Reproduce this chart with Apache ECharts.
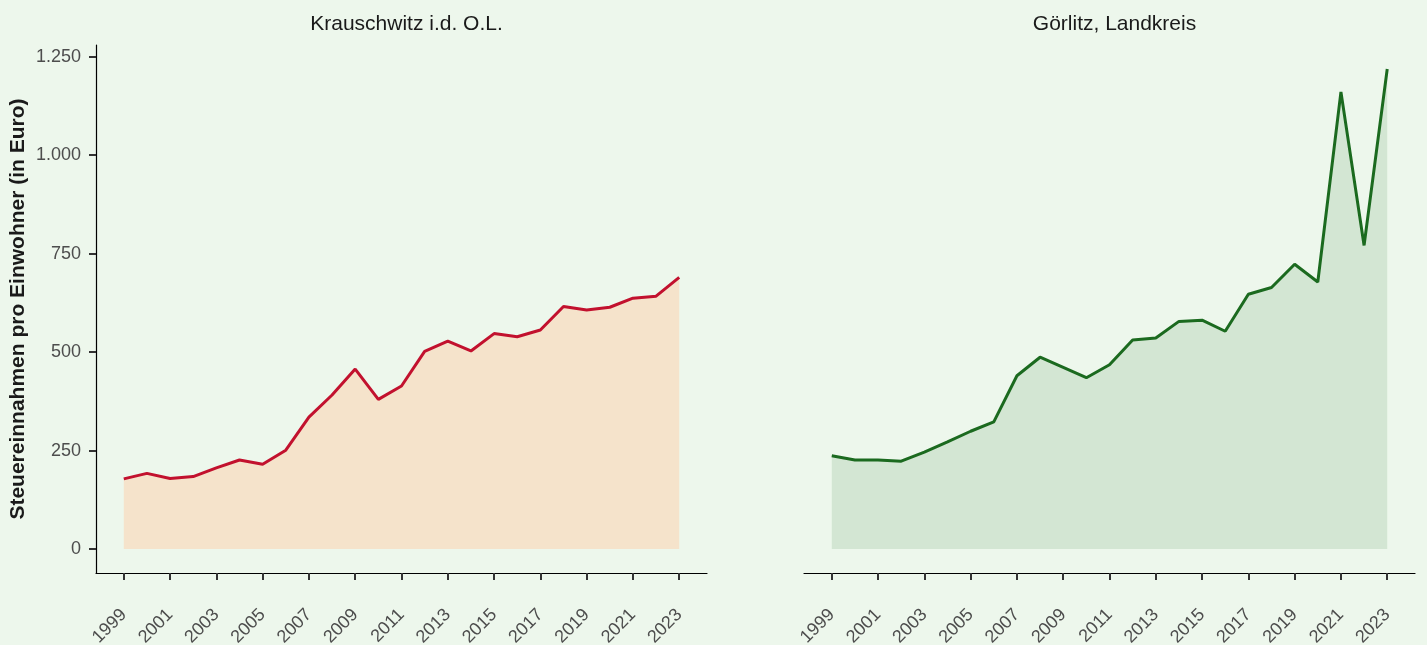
<!DOCTYPE html>
<html>
<head>
<meta charset="utf-8">
<script src="https://cdn.jsdelivr.net/npm/echarts@6/dist/echarts.min.js"></script>
<style>
html,body{margin:0;padding:0;background:#EDF7EC;}
#chart{width:1427px;height:645px;}
</style>
</head>
<body>
<div id="chart"></div>
<script>
const years = [1999,2000,2001,2002,2003,2004,2005,2006,2007,2008,2009,2010,2011,2012,2013,2014,2015,2016,2017,2018,2019,2020,2021,2022,2023];
const krauschwitz = [178,192,179,184,206,226,215,251,335,391,457,380,414,502,528,503,547,539,556,616,607,614,637,642,690];
const goerlitz = [237,226,226,223,246,272,299,323,440,487,461,435,468,531,536,578,581,553,647,664,723,678,1161,771,1219];
const panelTitles = ['Krauschwitz i.d. O.L.', 'Görlitz, Landkreis'];
const xTicks = [1999,2001,2003,2005,2007,2009,2011,2013,2015,2017,2019,2021,2023];
const yTicks = [0,250,500,750,1000,1250];
const yTickLabels = ['0','250','500','750','1.000','1.250'];
const yTitle = 'Steuereinnahmen pro Einwohner (in Euro)';

const chart = echarts.init(document.getElementById('chart'), null, {renderer:'canvas'});
const font = 'Liberation Sans, Arial, sans-serif';
const gridW = 611, gridH = 528, gridTop = 45;
const grids = [
  {left:96, top:gridTop, width:gridW, height:gridH, containLabel:false, outerBoundsMode:'none'},
  {left:804, top:gridTop, width:gridW, height:gridH, containLabel:false, outerBoundsMode:'none'}
];
function xAxis(i){
  return {
    type:'value', gridIndex:i, min:1997.8, max:2024.2,
    splitLine:{show:false},
    axisLine:{show:true, onZero:false, lineStyle:{color:'#000', width:1.2}},
    axisTick:{show:true, length:7, customValues:xTicks, lineStyle:{color:'#333', width:2}},
    axisLabel:{show:true, customValues:xTicks, rotate:45, margin:39, color:'#4D4D4D', fontSize:18, fontFamily:font,
      formatter:v=>String(v)}
  };
}
function yAxis(i){
  const base = {
    type:'value', gridIndex:i, min:-61, max:1280,
    splitLine:{show:false}
  };
  if(i===0){
    return Object.assign(base,{
      axisLine:{show:true, lineStyle:{color:'#000', width:1.2}},
      axisTick:{show:true, length:7, customValues:yTicks, lineStyle:{color:'#333', width:2}},
      axisLabel:{show:true, customValues:yTicks, margin:15, color:'#4D4D4D', fontSize:18, fontFamily:font,
        formatter:v=>yTickLabels[yTicks.indexOf(v)]},
      name:yTitle, nameLocation:'middle', nameRotate:90, nameGap:67,
      nameTextStyle:{fontSize:21, fontWeight:'bold', color:'#1A1A1A', fontFamily:font}
    });
  }
  return Object.assign(base,{axisLine:{show:false}, axisTick:{show:false}, axisLabel:{show:false}});
}
const pairs = arr => years.map((y,i)=>[y, arr[i]]);
const option = {
  backgroundColor:'#EDF7EC',
  animation:false,
  title:[
    {text:panelTitles[0], left:401.5, top:9, textAlign:'center', textStyle:{fontSize:21, fontWeight:'normal', color:'#1A1A1A', fontFamily:font}},
    {text:panelTitles[1], left:1109.5, top:9, textAlign:'center', textStyle:{fontSize:21, fontWeight:'normal', color:'#1A1A1A', fontFamily:font}}
  ],
  grid:grids,
  xAxis:[xAxis(0), xAxis(1)],
  yAxis:[yAxis(0), yAxis(1)],
  series:[
    {type:'line', xAxisIndex:0, yAxisIndex:0, data:pairs(krauschwitz), symbol:'none',
     lineStyle:{color:'#C2112E', width:3}, areaStyle:{color:'#F5E3CB', opacity:1, origin:'auto'}},
    {type:'line', xAxisIndex:1, yAxisIndex:1, data:pairs(goerlitz), symbol:'none',
     lineStyle:{color:'#1B6A1F', width:3}, areaStyle:{color:'#D3E6D3', opacity:1, origin:'auto'}}
  ]
};
chart.setOption(option);
</script>
</body>
</html>
